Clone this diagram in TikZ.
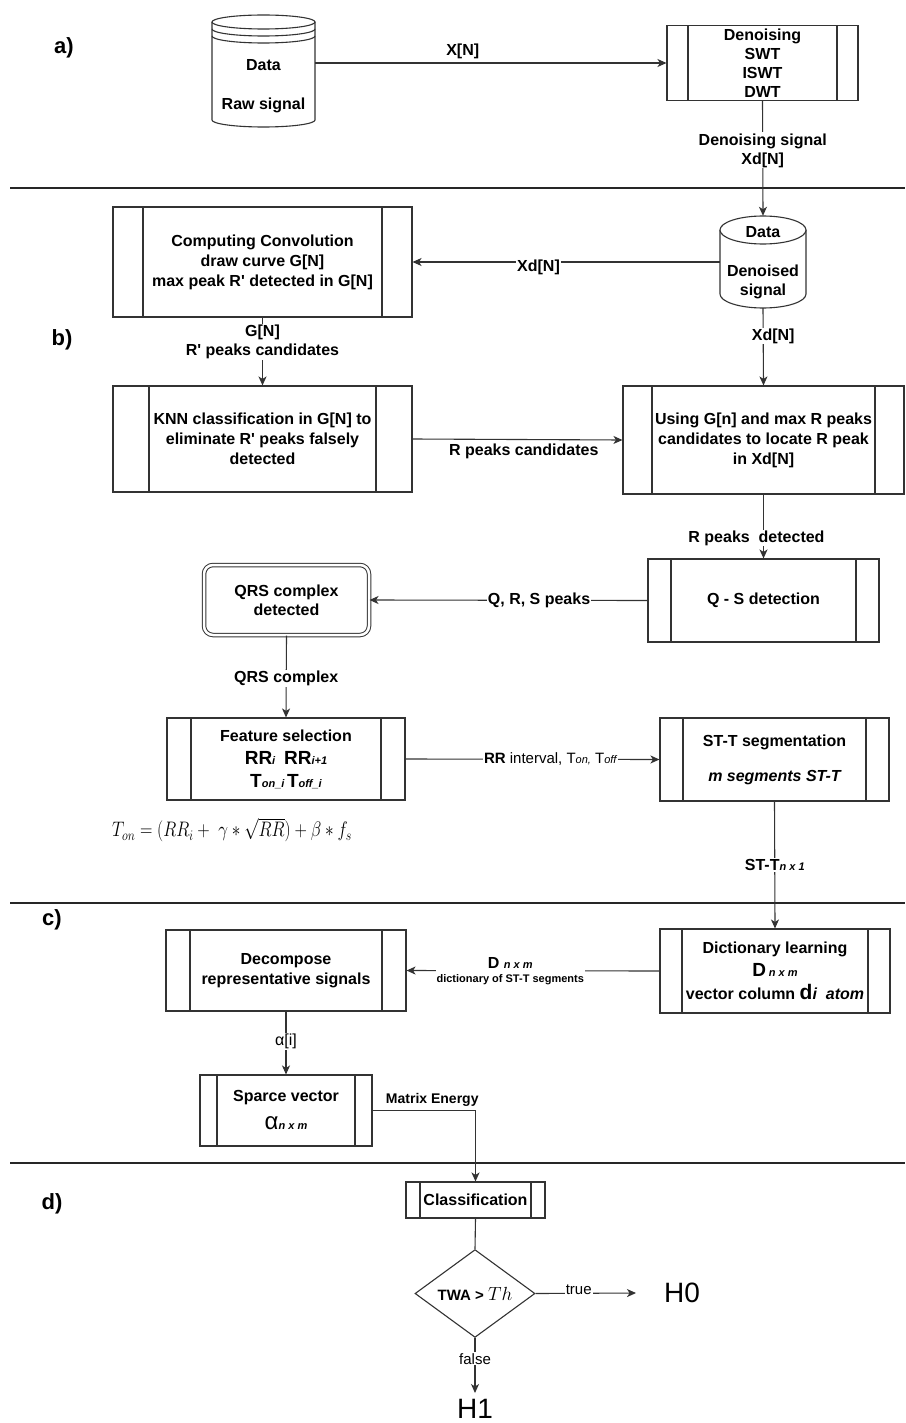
\RequirePackage{fix-cm}
\documentclass[tikz,border=0pt]{standalone}
\usepackage[no-math]{fontspec}
\usepackage{graphicx}
\setmainfont{Liberation Sans}
\usetikzlibrary{shapes.geometric,arrows.meta}
\definecolor{lc}{HTML}{333333}
\newcommand\myfs[2]{\fontsize{#1}{#2}\selectfont}
\newcommand\subit[1]{{\itshape\myfs{11}{12}#1}}
\tikzset{
  sz/.style 2 args={minimum width=#1pt, minimum height=#2pt},
  proc/.style={draw=lc, line width=1.1pt, fill=white, align=center, inner sep=0pt,
    font=\bfseries\myfs{16}{20},
    path picture={\draw[lc, line width=1.1pt]
      ([xshift=#1pt]path picture bounding box.north west) -- ([xshift=#1pt]path picture bounding box.south west)
      ([xshift=-#1pt]path picture bounding box.north east) -- ([xshift=-#1pt]path picture bounding box.south east);}},
  proc/.default=24,
  lbl/.style={fill=white, inner sep=1pt, font=\bfseries\myfs{16}{19}, align=center},
  txt/.style={font=\bfseries\myfs{16}{19}, align=center, inner sep=0pt},
  arr/.style={draw=lc, line width=1.1pt, -{Stealth[length=9pt,width=8pt,inset=2.5pt]}},
  ln/.style={draw=lc, line width=1.1pt},
  sepline/.style={draw=black!85, line width=2.6pt},
  sect/.style={font=\bfseries\myfs{22}{24}},
}
\begin{document}
\begin{tikzpicture}[x=1pt,y=-1pt]
\useasboundingbox (0,0) rectangle (905,1423);
\fill[white] (0,0) rectangle (905,1423);

% separators
\draw[sepline] (10,188) -- (905,188);
\draw[sepline] (10,903) -- (905,903);
\draw[sepline] (10,1163) -- (905,1163);

% section labels
\node[sect] (la) at (64,48) {a)};
\node[sect] (lb) at (62,340) {b)};
\node[sect] (lc) at (52,920) {c)};
\node[sect] (ld) at (52,1204) {d)};

% ---------- a) ----------
\node[sz={103}{112}] (raw) at (263.5,71) {};
\draw[ln, fill=white] (212,22) -- (212,120) arc[start angle=180, end angle=360, x radius=51.5pt, y radius=7pt] -- (315,22);
\draw[ln, fill=white] (263.5,22) ellipse [x radius=51.5pt, y radius=7pt];
\draw[ln] (212,29) arc[start angle=180, end angle=360, x radius=51.5pt, y radius=7pt];
\draw[ln] (212,36) arc[start angle=180, end angle=360, x radius=51.5pt, y radius=7pt];
\node[txt] (rawt1) at (263.5,65) {Data};
\node[txt] (rawt2) at (263.5,105) {Raw signal};

\node[proc=21, sz={191}{75}, font=\bfseries\myfs{16}{19}] (den) at (762.5,63) {Denoising\\SWT\\ISWT\\DWT};

% ---------- b) ----------
\node[sz={86}{92}] (dcyl) at (763,262) {};
\draw[ln, fill=white] (720,230) -- (720,294) arc[start angle=180, end angle=360, x radius=43pt, y radius=14pt] -- (806,230);
\draw[ln, fill=white] (763,230) ellipse [x radius=43pt, y radius=14pt];
\node[txt] (dcylt1) at (763,232) {Data};
\node[txt] (dcylt2) at (763,281.5) {Denoised\\signal};

\node[proc=30, sz={299}{110}] (conv) at (262.5,262) {Computing Convolution\\draw curve G[N]\\max peak R\textquotesingle{} detected in G[N]};
\node[proc=36, sz={299}{106}] (knn) at (262.5,439) {KNN classification in G[N] to\\eliminate R\textquotesingle{} peaks falsely\\detected};
\node[proc=29, sz={281}{108}] (using) at (763.5,440) {Using G[n] and max R peaks\\candidates to locate R peak\\in Xd[N]};
\node[proc=23, sz={231}{83}] (qs) at (763.5,600.5) {Q - S detection};
\node[draw=lc, line width=1pt, double=white, double distance=2.5pt, rounded corners=9pt, fill=white,
      sz={165}{70}, align=center, inner sep=0pt, font=\bfseries\myfs{16}{19}] (qrs) at (286.5,600) {QRS complex\\detected};
\node[proc=24, sz={238}{82}, font=\bfseries\myfs{16}{23}] (feat) at (286,759) {Feature selection\\
  {\myfs{19}{23}RR}\subit{i}\ \ {\myfs{19}{23}RR}\subit{i+1}\\
  {\myfs{19}{23}T}\subit{on\_i}\,{\myfs{19}{23}T}\subit{off\_i}};
\node[proc=23, sz={229}{83}] (stt) at (774.5,759.5) {ST-T segmentation\\[15pt]{\itshape m segments ST-T}};
\node (frm) at (232,830) {\scalebox{0.82}[1]{\myfs{21}{24}$T_{on} = (RR_i +\ \gamma * \sqrt{RR}) + \beta * f_s$}};

% ---------- c) ----------
\node[proc=22, sz={230}{84}, font=\bfseries\myfs{16}{23}] (dict) at (775,971) {Dictionary learning\\
  {\myfs{19}{23}D}\,\subit{n x m}\\
  vector column {\myfs{21}{23}d}\subit{\myfs{16}{19}i\ \ atom}};
\node[proc=24, sz={240}{81}] (dec) at (286,970.5) {Decompose\\representative signals};
\node[proc=17, sz={172}{71}, font=\bfseries\myfs{16}{20}] (spar) at (286,1110.5) {Sparce vector\\[8pt]
  {\mdseries\myfs{24}{24}α}\subit{n x m}};

% ---------- d) ----------
\node[proc=14, sz={139}{36}] (cls) at (475.5,1200) {Classification};
\node[diamond, draw=lc, line width=1.1pt, fill=white, minimum width=120pt, minimum height=84pt, inner sep=0pt,
      font=\bfseries\myfs{15}{18}] (dia) at (475,1293.5) {TWA > {\mdseries\myfs{19}{20}$Th$}};
\node[font=\myfs{28}{28}] (h0) at (682,1293) {H0};
\node[font=\myfs{28}{28}, inner sep=0pt] (h1) at (475,1409) {H1};
\coordinate (h0in) at (636,1293);
\coordinate (h1in) at (475,1393);

% ---------- connectors ----------
\draw[arr] (raw.east |- den.west) -- node[pos=0.42, above=4pt, txt] {X[N]} (den.west);
\draw[arr] (den.south) -- node[pos=0.43, lbl] {Denoising signal\\Xd[N]} (dcyl.north);
\draw[arr] (dcyl.west) -- node[pos=0.59, lbl, yshift=-5pt] {Xd[N]} (conv.east);
\draw[arr] (conv.south) -- node[pos=0.36, lbl] {G[N]\\R\textquotesingle{} peaks candidates} (knn.north);
\draw[arr] (dcyl.south) -- node[pos=0.36, lbl, xshift=10pt] {Xd[N]} (using.north);
\draw[arr] (knn.east) -- node[pos=0.53, below=4pt, txt] {R peaks candidates} (using.west);
\draw[arr] (using.south) -- node[pos=0.68, lbl, xshift=-7pt] {R peaks\ \ detected} (qs.north);
\draw[arr] (qs.west) -- node[pos=0.39, lbl] {Q, R, S peaks} (qrs.east);
\draw[arr] (qrs.south) -- node[pos=0.52, lbl] {QRS complex} (feat.north);
\draw[arr] (feat.east) -- node[pos=0.57, lbl, font=\myfs{15}{18}] {\textbf{RR} interval, T\subit{on,} T\subit{off}} (stt.west);
\draw[arr] (stt.south) -- node[pos=0.5, lbl] {ST-T\subit{n x 1}} (dict.north);
\draw[arr] (dict.west) -- node[pos=0.59, lbl, font=\bfseries\myfs{16}{14}] {D \subit{n x m}\\{\myfs{11}{13}dictionary of ST-T segments}} (dec.east);
\draw[arr] (dec.south) -- node[pos=0.48, lbl, font=\myfs{16}{18}] {α[i]} (spar.north);
\draw[arr] (spar.east) -| node[pos=0.29, above=3pt, txt, font=\bfseries\myfs{14}{16}] {Matrix Energy} (cls.north);
\draw[ln] (cls.south) -- (dia.north);
\draw[arr] (dia.east) -- node[pos=0.43, lbl, font=\myfs{15}{18}, yshift=4pt] {true} (h0in);
\draw[arr] (dia.south) -- node[pos=0.38, lbl, font=\myfs{15}{18}] {false} (h1in);
\end{tikzpicture}
\end{document}
